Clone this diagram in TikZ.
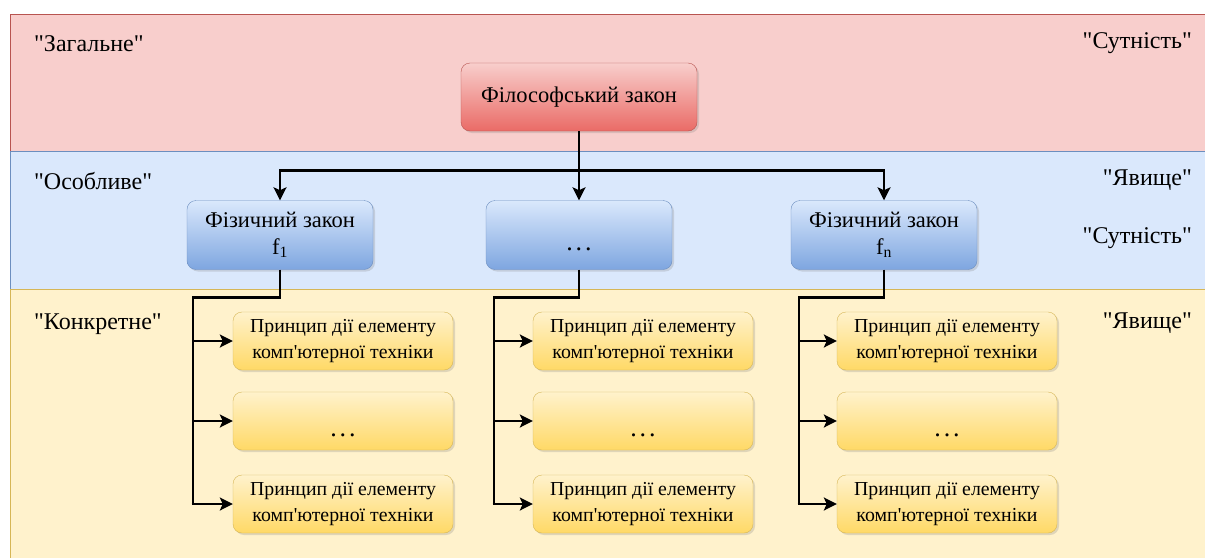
\documentclass[tikz,border=0pt]{standalone}
\usepackage{fontspec}
\setmainfont{Liberation Serif}
\usetikzlibrary{positioning,shadows,arrows.meta}

\definecolor{redfill}{HTML}{F8CECC}
\definecolor{redline}{HTML}{B85450}
\definecolor{redlow}{HTML}{EA6B66}
\definecolor{bluefill}{HTML}{DAE8FC}
\definecolor{blueline}{HTML}{6C8EBF}
\definecolor{bluelow}{HTML}{7EA6E0}
\definecolor{yelfill}{HTML}{FFF2CC}
\definecolor{yelline}{HTML}{D6B656}
\definecolor{yellow}{HTML}{FFD966}

\newcommand{\quoted}[1]{\textquotedbl#1\textquotedbl}
\newcommand{\gapdots}{\strut\smash{\raisebox{-10pt}{\fontsize{26}{26}\selectfont.\kern3pt.\kern3pt.}}}
\newcommand{\elemtext}{Принцип дії елементу\\комп\textquotesingle{}ютерної техніки}

\begin{document}
\begin{tikzpicture}[%
    x=1pt, y=-1pt,
    >={Stealth[length=13pt,width=13pt,inset=3pt]},
    on grid,
    box/.style={rounded corners=9pt, align=center, inner sep=0pt,
      drop shadow={shadow xshift=2pt, shadow yshift=-2pt, opacity=0.25}},
    law/.style={box, draw=redline, top color=redfill, bottom color=redlow,
      minimum width=236pt, minimum height=68pt, font=\fontsize{22.5}{27}\selectfont},
    phys/.style={box, draw=blueline, top color=bluefill, bottom color=bluelow,
      minimum width=186pt, minimum height=69pt, font=\fontsize{22.5}{27}\selectfont},
    elem/.style={box, draw=yelline, top color=yelfill, bottom color=yellow,
      minimum width=220pt, minimum height=58pt, font=\fontsize{19.8}{26}\selectfont},
    tag/.style={inner sep=0pt, font=\fontsize{24}{28}\selectfont},
    link/.style={draw=black, line width=2.6pt}
  ]
    \useasboundingbox (0,0) rectangle (1205,557);
    \clip (0,0) rectangle (1205,557);

    % levels
    \filldraw[fill=redfill, draw=redline] (10,14) rectangle (1215,151);
    \filldraw[fill=bluefill, draw=blueline] (10,151) rectangle (1215,289);
    \filldraw[fill=yelfill, draw=yelline] (10,289) rectangle (1215,565);

    \node[tag, anchor=west] (gen) at (34,44) {\quoted{Загальне}};
    \node[tag, anchor=west] (spec) at (34,181) {\quoted{Особливе}};
    \node[tag, anchor=west] (conc) at (34,324) {\quoted{Конкретне}};
    \node[tag, anchor=east] (ess1) at (1192,43) {\quoted{Сутність}};
    \node[tag, anchor=east] (app1) at (1192,180) {\quoted{Явище}};
    \node[tag, anchor=east] (ess2) at (1192,238) {\quoted{Сутність}};
    \node[tag, anchor=east] (app2) at (1192,323) {\quoted{Явище}};

    % laws
    \node[law] (law) at (579,97) {Філософський закон};
    \node[phys] (f1) [below left=138pt and 299pt of law] {Фізичний закон\\f\textsubscript{1}};
    \node[phys] (fdots) [below=138pt of law] {\gapdots};
    \node[phys] (fn) [below right=138pt and 305pt of law] {Фізичний закон\\f\textsubscript{n}};

    \node[elem] (e11) [below right=106pt and 63pt of f1] {\elemtext};
    \node[elem] (e12) [below=80pt of e11] {\gapdots};
    \node[elem] (e13) [below=83pt of e12] {\elemtext};
    \node[elem] (e21) [below right=106pt and 64pt of fdots] {\elemtext};
    \node[elem] (e22) [below=80pt of e21] {\gapdots};
    \node[elem] (e23) [below=83pt of e22] {\elemtext};
    \node[elem] (e31) [below right=106pt and 63pt of fn] {\elemtext};
    \node[elem] (e32) [below=80pt of e31] {\gapdots};
    \node[elem] (e33) [below=83pt of e32] {\elemtext};

    % connectors
    \draw[link, ->] (law.south) -- ++(0,39) -| (f1.north);
    \draw[link, ->] (law.south) -- (fdots.north);
    \draw[link, ->] (law.south) -- ++(0,39) -| (fn.north);

    \draw[link] (f1.south) -- ++(0,28) -| ([xshift=-40pt]e13.west);
    \draw[link, ->] ([xshift=-40pt]e11.west) -- (e11.west);
    \draw[link, ->] ([xshift=-40pt]e12.west) -- (e12.west);
    \draw[link, ->] ([xshift=-41.3pt]e13.west) -- (e13.west);

    \draw[link] (fdots.south) -- ++(0,28) -| ([xshift=-39pt]e23.west);
    \draw[link, ->] ([xshift=-39pt]e21.west) -- (e21.west);
    \draw[link, ->] ([xshift=-39pt]e22.west) -- (e22.west);
    \draw[link, ->] ([xshift=-40.3pt]e23.west) -- (e23.west);

    \draw[link] (fn.south) -- ++(0,28) -| ([xshift=-38pt]e33.west);
    \draw[link, ->] ([xshift=-38pt]e31.west) -- (e31.west);
    \draw[link, ->] ([xshift=-38pt]e32.west) -- (e32.west);
    \draw[link, ->] ([xshift=-39.3pt]e33.west) -- (e33.west);
  \end{tikzpicture}
\end{document}
